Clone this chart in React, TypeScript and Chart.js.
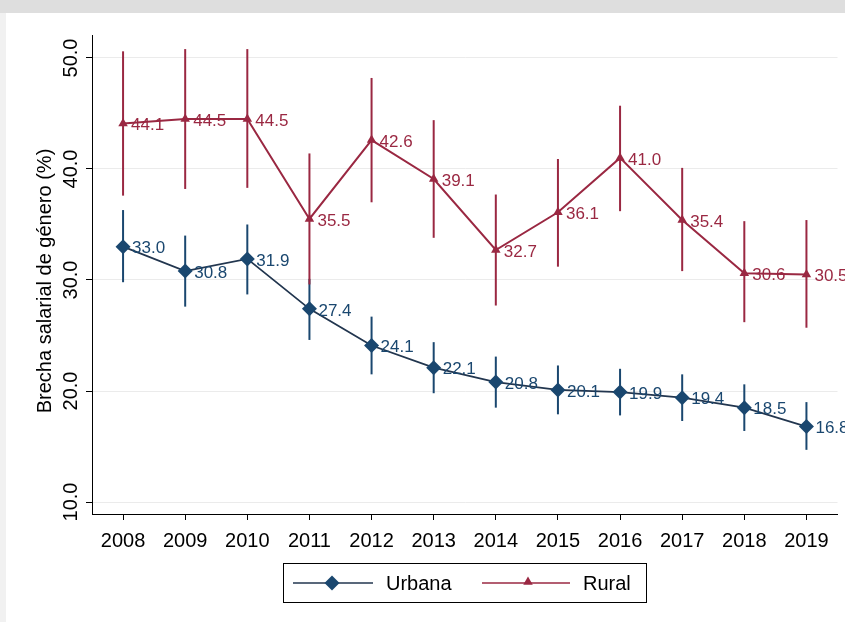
import React, { useEffect, useRef } from 'react';
import { Chart, registerables } from 'chart.js';

Chart.register(...registerables);

const years = ['2008', '2009', '2010', '2011', '2012', '2013', '2014', '2015', '2016', '2017', '2018', '2019'];

const urbana = [33.0, 30.8, 31.9, 27.4, 24.1, 22.1, 20.8, 20.1, 19.9, 19.4, 18.5, 16.8];
const urbanaLow = [29.8, 27.6, 28.7, 24.6, 21.5, 19.8, 18.5, 17.9, 17.8, 17.3, 16.4, 14.7];
const urbanaHigh = [36.3, 34.0, 35.0, 30.1, 26.7, 24.4, 23.1, 22.3, 22.0, 21.5, 20.6, 19.0];

const rural = [44.1, 44.5, 44.5, 35.5, 42.6, 39.1, 32.7, 36.1, 41.0, 35.4, 30.6, 30.5];
const ruralLow = [37.6, 38.2, 38.3, 29.6, 37.0, 33.8, 27.7, 31.2, 36.2, 30.8, 26.2, 25.7];
const ruralHigh = [50.6, 50.8, 50.8, 41.4, 48.2, 44.4, 37.7, 40.9, 45.7, 40.1, 35.3, 35.4];

const yTicks = [10, 20, 30, 40, 50];
const yTitle = 'Brecha salarial de género (%)';

const NAVY = '#1a476f';
const NAVY_LINE = '#22364f';
const MAROON = '#9a2842';
const FONT = '"Liberation Sans", Arial, sans-serif';

const lows = [urbanaLow, ruralLow];
const highs = [urbanaHigh, ruralHigh];

function drawDiamond(ctx: CanvasRenderingContext2D, x: number, y: number, r: number, color: string) {
  ctx.beginPath();
  ctx.moveTo(x, y - r);
  ctx.lineTo(x + r, y);
  ctx.lineTo(x, y + r);
  ctx.lineTo(x - r, y);
  ctx.closePath();
  ctx.fillStyle = color;
  ctx.fill();
}

function drawTriangle(ctx: CanvasRenderingContext2D, x: number, y: number, r: number, color: string) {
  ctx.beginPath();
  ctx.moveTo(x, y - r);
  ctx.lineTo(x + r * 0.866, y + r * 0.5);
  ctx.lineTo(x - r * 0.866, y + r * 0.5);
  ctx.closePath();
  ctx.fillStyle = color;
  ctx.fill();
}

const customPlugin = {
  id: 'customPlugin',
  beforeDraw(chart: any) {
    const { ctx, width, height } = chart;
    ctx.save();
    ctx.fillStyle = '#ffffff';
    ctx.fillRect(0, 0, width, height);
    ctx.fillStyle = '#dedede';
    ctx.fillRect(0, 0, width, 13);
    ctx.fillStyle = '#f1f1f1';
    ctx.fillRect(0, 13, 6, height - 13);
    ctx.restore();
  },
  beforeDatasetsDraw(chart: any) {
    const { ctx } = chart;
    const x = chart.scales.x;
    const y = chart.scales.y;
    ctx.save();
    chart.data.datasets.forEach((ds: any, di: number) => {
      ctx.strokeStyle = ds.errorColor;
      ctx.lineWidth = 2;
      years.forEach((_, i) => {
        const px = x.getPixelForValue(i);
        ctx.beginPath();
        ctx.moveTo(px, y.getPixelForValue(lows[di][i]));
        ctx.lineTo(px, y.getPixelForValue(highs[di][i]));
        ctx.stroke();
      });
    });
    ctx.restore();
  },
  afterDatasetsDraw(chart: any) {
    const { ctx } = chart;
    ctx.save();
    ctx.font = `17px ${FONT}`;
    ctx.textAlign = 'left';
    ctx.textBaseline = 'middle';
    chart.data.datasets.forEach((ds: any, di: number) => {
      const meta = chart.getDatasetMeta(di);
      ctx.fillStyle = ds.labelColor;
      meta.data.forEach((pt: any, i: number) => {
        ctx.fillText((ds.data[i] as number).toFixed(1), pt.x + ds.labelOffset, pt.y + 2);
      });
    });
    ctx.restore();
  },
  afterDraw(chart: any) {
    const { ctx } = chart;
    const y = chart.scales.y;
    ctx.save();
    // y tick labels (rotated)
    ctx.fillStyle = '#000';
    ctx.font = `20px ${FONT}`;
    ctx.textAlign = 'center';
    ctx.textBaseline = 'middle';
    yTicks.forEach((v) => {
      const py = y.getPixelForValue(v);
      ctx.save();
      ctx.translate(71, py);
      ctx.rotate(-Math.PI / 2);
      ctx.fillText(v.toFixed(1), 0, 0);
      ctx.restore();
    });
    // y title
    ctx.save();
    ctx.font = `20px ${FONT}`;
    ctx.translate(45, 281);
    ctx.rotate(-Math.PI / 2);
    ctx.fillText(yTitle, 0, 0);
    ctx.restore();

    // legend
    const bx = 283.5, by = 563.5, bw = 363, bh = 39;
    ctx.fillStyle = '#fff';
    ctx.fillRect(bx, by, bw, bh);
    ctx.strokeStyle = '#000';
    ctx.lineWidth = 1;
    ctx.strokeRect(bx, by, bw, bh);
    const ly = 583;
    const items = [
      { x0: 293, x1: 373, mx: 332 },
      { x0: 482, x1: 570, mx: 528 },
    ];
    chart.data.datasets.forEach((ds: any, di: number) => {
      const it = items[di];
      ctx.strokeStyle = ds.borderColor;
      ctx.lineWidth = 1.5;
      ctx.beginPath();
      ctx.moveTo(it.x0, ly);
      ctx.lineTo(it.x1, ly);
      ctx.stroke();
      if (di === 0) drawDiamond(ctx, it.mx, ly, 7.5, NAVY);
      else drawTriangle(ctx, it.mx, ly - 1, 5.5, MAROON);
      ctx.fillStyle = '#000';
      ctx.font = `20px ${FONT}`;
      ctx.textAlign = 'left';
      ctx.textBaseline = 'middle';
      ctx.fillText(ds.label, di === 0 ? 386 : 583, ly + 1);
    });
    ctx.restore();
  },
};

export default function App() {
  const ref = useRef<HTMLCanvasElement | null>(null);

  useEffect(() => {
    document.body.style.margin = '0';
    const canvas = ref.current;
    if (!canvas) return;
    const chart = new Chart(canvas, {
      type: 'line',
      data: {
        labels: years,
        datasets: [
          {
            label: 'Urbana',
            data: urbana,
            borderColor: NAVY_LINE,
            borderWidth: 1.8,
            backgroundColor: NAVY,
            pointStyle: 'rectRot',
            pointRadius: 7.5,
            pointBorderWidth: 0,
            pointBackgroundColor: NAVY,
            pointBorderColor: NAVY,
            tension: 0,
            ...({ errorColor: NAVY, labelColor: NAVY, labelOffset: 9 } as any),
          },
          {
            label: 'Rural',
            data: rural,
            borderColor: MAROON,
            borderWidth: 2,
            backgroundColor: MAROON,
            pointStyle: 'triangle',
            pointRadius: 5.5,
            pointBorderWidth: 0,
            pointBackgroundColor: MAROON,
            pointBorderColor: MAROON,
            tension: 0,
            ...({ errorColor: MAROON, labelColor: MAROON, labelOffset: 8 } as any),
          },
        ],
      },
      options: {
        animation: false,
        responsive: false,
        maintainAspectRatio: false,
        layout: { padding: { top: 35, right: 7, left: 0, bottom: 0 } },
        plugins: {
          legend: { display: false },
          tooltip: { enabled: false },
        },
        scales: {
          x: {
            type: 'category',
            offset: true,
            grid: {
              drawOnChartArea: false,
              tickColor: '#000',
              tickLength: 6,
            },
            border: { display: true, color: '#000', width: 1 },
            ticks: {
              color: '#000',
              font: { size: 20, family: FONT },
              padding: 9,
              maxRotation: 0,
              minRotation: 0,
              autoSkip: false,
            },
            afterFit: (s: any) => {
              s.height = 108;
            },
          },
          y: {
            type: 'linear',
            min: 8.92,
            max: 52.07,
            afterBuildTicks: (s: any) => {
              s.ticks = yTicks.map((v) => ({ value: v }));
            },
            grid: {
              color: '#ebebeb',
              tickColor: '#000',
              tickLength: 6,
              lineWidth: 1,
            },
            border: { display: true, color: '#000', width: 1 },
            ticks: { display: false },
            afterFit: (s: any) => {
              s.width = 92;
            },
          },
        },
      },
      plugins: [customPlugin],
    } as any);
    return () => chart.destroy();
  }, []);

  return (
    <div style={{ position: 'absolute', left: 0, top: 0, width: 845, height: 622 }}>
      <canvas ref={ref} width={845} height={622} style={{ width: 845, height: 622, display: 'block' }} />
    </div>
  );
}
